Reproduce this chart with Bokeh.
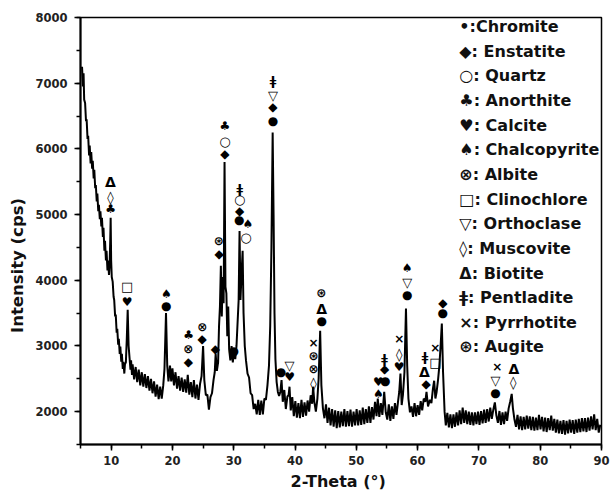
from bokeh.plotting import figure
from bokeh.models import ColumnDataSource, Label, SingleIntervalTicker, Range1d
from bokeh.core.properties import value
from bokeh.embed import file_html
from bokeh.resources import INLINE

# ---------------- data ----------------
two_theta = [
    5.25, 5.4, 5.5, 5.6, 5.75, 5.9, 6.0, 6.15, 6.25, 6.4, 6.5, 6.65, 6.75, 6.9, 7.0, 7.15, 7.25, 7.4, 7.5, 7.65,
    7.75, 7.9, 8.0, 8.15, 8.25, 8.4, 8.5, 8.65, 8.75, 8.9, 9.0, 9.15, 9.25, 9.4, 9.5, 9.65, 9.75, 9.85, 9.92, 10.0,
    10.1, 10.25, 10.4, 10.5, 10.65, 10.75, 10.9, 11.0, 11.15, 11.25, 11.4, 11.5, 11.65, 11.75, 11.9, 12.0, 12.15, 12.25, 12.4, 12.55,
    12.7, 12.85, 13.0, 13.15, 13.25, 13.4, 13.5, 13.75, 14.0, 14.25, 14.5, 14.75, 15.0, 15.25, 15.5, 15.75, 16.0, 16.25, 16.5, 16.75,
    17.0, 17.25, 17.5, 17.75, 18.0, 18.25, 18.5, 18.7, 18.95, 19.15, 19.35, 19.6, 19.8, 20.0, 20.25, 20.5, 20.75, 21.0, 21.25, 21.5,
    21.75, 22.0, 22.25, 22.5, 22.75, 23.0, 23.25, 23.5, 23.75, 24.0, 24.25, 24.5, 24.75, 25.0, 25.2, 25.45, 25.7, 25.95, 26.2, 26.45,
    26.7, 26.9, 27.05, 27.25, 27.45, 27.6, 27.75, 27.9, 28.05, 28.2, 28.35, 28.5, 28.65, 28.8, 28.95, 29.1, 29.25, 29.45, 29.65, 29.85,
    30.05, 30.25, 30.45, 30.65, 30.8, 30.95, 31.1, 31.25, 31.45, 31.6, 31.8, 32.0, 32.25, 32.5, 32.75, 33.0, 33.25, 33.5, 33.75, 34.0,
    34.25, 34.5, 34.75, 35.0, 35.25, 35.5, 35.75, 35.95, 36.15, 36.35, 36.5, 36.65, 36.8, 37.0, 37.2, 37.4, 37.6, 37.8, 38.0, 38.25,
    38.5, 38.75, 38.95, 39.1, 39.3, 39.55, 39.8, 40.05, 40.3, 40.55, 40.8, 41.05, 41.3, 41.55, 41.8, 42.05, 42.3, 42.55, 42.8, 42.95,
    43.15, 43.4, 43.65, 43.85, 44.1, 44.3, 44.55, 44.8, 45.05, 45.3, 45.55, 45.8, 46.05, 46.3, 46.55, 46.8, 47.05, 47.3, 47.55, 47.8,
    48.05, 48.3, 48.55, 48.8, 49.05, 49.3, 49.55, 49.8, 50.05, 50.3, 50.55, 50.8, 51.05, 51.3, 51.55, 51.8, 52.05, 52.3, 52.55, 52.8,
    53.05, 53.3, 53.5, 53.75, 54.0, 54.25, 54.55, 54.8, 55.05, 55.3, 55.55, 55.8, 56.05, 56.3, 56.55, 56.8, 57.0, 57.2, 57.4, 57.6,
    57.85, 58.1, 58.3, 58.5, 58.75, 59.0, 59.25, 59.5, 59.75, 60.0, 60.25, 60.5, 60.75, 61.0, 61.25, 61.45, 61.7, 62.0, 62.25, 62.5,
    62.7, 62.9, 63.1, 63.35, 63.55, 63.75, 63.95, 64.15, 64.4, 64.6, 64.85, 65.1, 65.35, 65.6, 65.85, 66.1, 66.35, 66.6, 66.85, 67.1,
    67.35, 67.6, 67.85, 68.1, 68.35, 68.6, 68.85, 69.1, 69.35, 69.6, 69.85, 70.1, 70.35, 70.6, 70.85, 71.1, 71.35, 71.6, 71.85, 72.1,
    72.35, 72.6, 72.85, 73.1, 73.35, 73.6, 73.85, 74.1, 74.35, 74.6, 74.85, 75.1, 75.35, 75.55, 75.8, 76.05, 76.3, 76.55, 76.8, 77.05,
    77.3, 77.55, 77.8, 78.05, 78.3, 78.55, 78.8, 79.05, 79.3, 79.55, 79.8, 80.05, 80.3, 80.55, 80.8, 81.05, 81.3, 81.55, 81.8, 82.05,
    82.3, 82.55, 82.8, 83.05, 83.3, 83.55, 83.8, 84.05, 84.3, 84.55, 84.8, 85.05, 85.3, 85.55, 85.8, 86.05, 86.3, 86.55, 86.8, 87.05,
    87.3, 87.55, 87.8, 88.05, 88.3, 88.55, 88.8, 89.05, 89.3, 89.55, 89.8,
]
intensity = [
    7250, 6950, 7150, 6750, 6700, 6420, 6450, 6150, 6200, 5900, 6050, 5780, 5950, 5700, 5820, 5550, 5680, 5400, 5450, 5200,
    5320, 5050, 5150, 4930, 5050, 4820, 4950, 4660, 4800, 4450, 4600, 4300, 4450, 4150, 4300, 4080, 4250, 4600, 4950, 4300,
    4050, 3980, 3750, 3700, 3450, 3480, 3200, 3260, 3020, 3110, 2880, 2990, 2760, 2880, 2650, 2760, 2580, 2720, 2750, 3100,
    3550, 3000, 2820, 2640, 2780, 2560, 2720, 2490, 2680, 2450, 2640, 2400, 2600, 2380, 2570, 2360, 2540, 2320, 2500, 2280,
    2460, 2230, 2410, 2190, 2380, 2200, 2400, 2650, 3500, 2700, 2460, 2700, 2460, 2660, 2400, 2600, 2350, 2540, 2320, 2520,
    2300, 2490, 2290, 2560, 2260, 2450, 2220, 2480, 2200, 2410, 2180, 2420, 2540, 3000, 2480, 2250, 2260, 2030, 2220, 2280,
    2480, 2600, 2880, 2620, 2750, 3300, 3600, 4220, 3450, 4050, 3650, 5800, 3900, 3800, 3150, 3600, 2950, 2780, 3000, 2750,
    2960, 2800, 3000, 3400, 3700, 4750, 3700, 4050, 4450, 3500, 3000, 2780, 2580, 2520, 2280, 2250, 2040, 2120, 1960, 2180,
    1950, 2170, 1960, 2200, 2180, 2400, 2700, 3300, 4500, 6250, 5000, 3500, 2800, 2450, 2300, 2240, 2300, 2480, 2150, 2330,
    2040, 2230, 2250, 2380, 2020, 2220, 1930, 2160, 1910, 2130, 1900, 2180, 1920, 2140, 1940, 2170, 2000, 2250, 2120, 2380,
    2150, 2000, 2200, 2500, 3230, 2400, 2050, 1900, 2110, 1830, 2060, 1790, 2040, 1770, 2020, 1750, 2010, 1760, 2000, 1780,
    2040, 1770, 2010, 1780, 2030, 1770, 2000, 1790, 2040, 1790, 2020, 1800, 2060, 1810, 2040, 1830, 2080, 1830, 2070, 1880,
    2150, 1930, 2200, 1920, 2130, 1950, 2300, 1990, 1880, 2110, 1860, 2080, 1890, 2130, 1950, 2150, 2300, 2580, 2100, 2250,
    2600, 3570, 2700, 2200, 1990, 2080, 1920, 2130, 1930, 2100, 1950, 2160, 2020, 2200, 2150, 2300, 2080, 2180, 2130, 2350,
    2470, 2200, 2300, 2500, 2700, 3000, 3340, 2600, 2000, 1790, 1980, 1760, 1960, 1750, 1960, 1770, 1990, 1790, 2020, 1810,
    2060, 1830, 2020, 1810, 2000, 1800, 1990, 1790, 1990, 1810, 2000, 1800, 2010, 1820, 2030, 1830, 2040, 1850, 2060, 1890,
    2030, 2140, 1940, 1830, 2010, 1800, 1990, 1810, 2000, 1860, 2050, 2150, 2270, 2050, 1880, 1770, 1950, 1730, 1930, 1720,
    1920, 1730, 1940, 1740, 1930, 1720, 1920, 1710, 1910, 1720, 1950, 1730, 1920, 1700, 1910, 1690, 1900, 1720, 1940, 1710,
    1890, 1680, 1880, 1670, 1860, 1660, 1870, 1650, 1860, 1670, 1880, 1680, 1870, 1660, 1880, 1680, 1890, 1690, 1900, 1700,
    1900, 1690, 1910, 1710, 1930, 1730, 1960, 1720, 1890, 1680, 1800,
]

# peak identification symbols
mark_theta = [9.9, 9.9, 9.9, 12.6, 12.6, 19.0, 19.0, 22.6, 22.6, 22.65, 24.85, 24.85, 27.0, 27.6, 27.55,
              28.55, 28.55, 28.55, 30.0, 30.9, 30.95, 30.95, 31.0, 32.0, 32.3, 36.4, 36.4, 36.4, 36.4,
              37.7, 39.1, 39.1, 43.0, 43.0, 43.0, 43.0, 44.35, 44.35, 44.3, 53.6, 53.6, 54.7, 54.6, 54.6,
              57.0, 57.0, 57.0, 58.3, 58.3, 58.3, 61.4, 61.1, 61.2, 62.9, 62.9, 64.1, 64.1,
              72.7, 72.7, 73.0, 75.6, 75.7]
mark_int = [5090, 5260, 5490, 3665, 3900, 3610, 3790, 2750, 2950, 3160, 3100, 3290, 2955, 4400, 4600,
            5920, 6115, 6350, 2930, 4918, 5060, 5227, 5390, 4653, 4857, 6430, 6640, 6810, 7040,
            2610, 2520, 2700, 2425, 2650, 2850, 3040, 3385, 3570, 3800, 2270, 2450, 2470, 2650, 2800,
            2675, 2868, 3105, 3770, 3970, 4180, 2420, 2600, 2837, 2750, 2970, 3500, 3660,
            2290, 2470, 2680, 2450, 2650]
mark_sym = ["♣", "◊", "Δ", "♥", "□", "●", "♠", "◆", "⊗", "♣", "◆", "⊗", "◆", "◆", "⊛",
            "◆", "○", "♣", "●", "●", "◆", "○", "ǂ", "○", "♠", "●", "◆", "▽", "ǂ",
            "●", "♥", "▽", "◊", "⊗", "⊛", "×", "●", "Δ", "⊛", "♠", "♥", "●", "◆", "ǂ",
            "♥", "◊", "×", "●", "▽", "♠", "◆", "Δ", "ǂ", "□", "×", "●", "◆",
            "●", "▽", "×", "◊", "Δ"]

legend_sym = ["•", "◆", "○", "♣", "♥", "♠", "⊗", "□", "▽", "◊", "Δ", "ǂ", "×", "⊛"]
legend_name = ["Chromite", "Enstatite", "Quartz", "Anorthite", "Calcite", "Chalcopyrite", "Albite",
               "Clinochlore", "Orthoclase", "Muscovite", "Biotite", "Pentladite", "Pyrrhotite", "Augite"]

x_ticks_interval = 10
y_ticks_interval = 1000

# ---------------- figure ----------------
p = figure(width=613, height=495, output_backend="svg", toolbar_location=None,
           x_range=Range1d(5, 90), y_range=Range1d(1500, 8000),
           min_border_left=80, min_border_right=12, min_border_top=17, min_border_bottom=51)
p.background_fill_color = "white"
p.border_fill_color = "white"
p.grid.visible = False
p.outline_line_color = "black"
p.outline_line_width = 1.5

FONT = "DejaVu Sans"

p.line(two_theta, intensity, line_color="black", line_width=2)

size_of = {"Δ": "14px", "▽": "13px", "◊": "13px", "○": "13px", "□": "13px", "⊗": "12px", "⊛": "12px"}
src = ColumnDataSource(dict(x=mark_theta, y=mark_int, t=mark_sym,
                            fs=[size_of.get(s, "12px") for s in mark_sym]))
p.text(x="x", y="y", text="t", source=src, text_align="center", text_baseline="middle",
       text_font=value(FONT), text_font_style="bold", text_font_size="fs", text_color="black")

# axes
p.xaxis.ticker = SingleIntervalTicker(interval=x_ticks_interval, num_minor_ticks=2)
p.yaxis.ticker = SingleIntervalTicker(interval=y_ticks_interval, num_minor_ticks=2)
for ax in (p.xaxis[0], p.yaxis[0]):
    ax.axis_line_width = 2
    ax.axis_line_color = "black"
    ax.major_tick_line_width = 1.5
    ax.minor_tick_line_width = 1.5
    ax.major_tick_out = 6
    ax.major_tick_in = 0
    ax.minor_tick_out = 4
    ax.minor_tick_in = 0
    ax.major_label_text_font = FONT
    ax.major_label_text_font_style = "bold"
    ax.major_label_text_font_size = "11.5px"
    ax.major_label_text_color = "#222222"
    ax.axis_label_text_font = FONT
    ax.axis_label_text_font_style = "bold"
    ax.axis_label_text_color = "#111111"
p.yaxis.major_label_standoff = 7
p.xaxis.major_label_standoff = 5
p.xaxis.axis_label = "2-Theta  (°)"
p.xaxis.axis_label_text_font_size = "16px"
p.xaxis.axis_label_standoff = 4
p.yaxis.axis_label = "Intensity (cps)" + "\u00a0" * 12
p.yaxis.axis_label_text_font_size = "16.5px"
p.yaxis.axis_label_standoff = 5

# legend as text lines
leg_x = 66.8
leg_top = 7860
leg_step = 375
for i, (s, n) in enumerate(zip(legend_sym, legend_name)):
    sep = ":" if i == 0 else ": "
    p.add_layout(Label(x=leg_x, y=leg_top - i * leg_step, text=s + sep + n,
                       text_align="left", text_baseline="middle", text_font=FONT,
                       text_font_style="bold", text_font_size="16px", text_color="#111111"))

open("out.html", "w").write(file_html(p, INLINE))
